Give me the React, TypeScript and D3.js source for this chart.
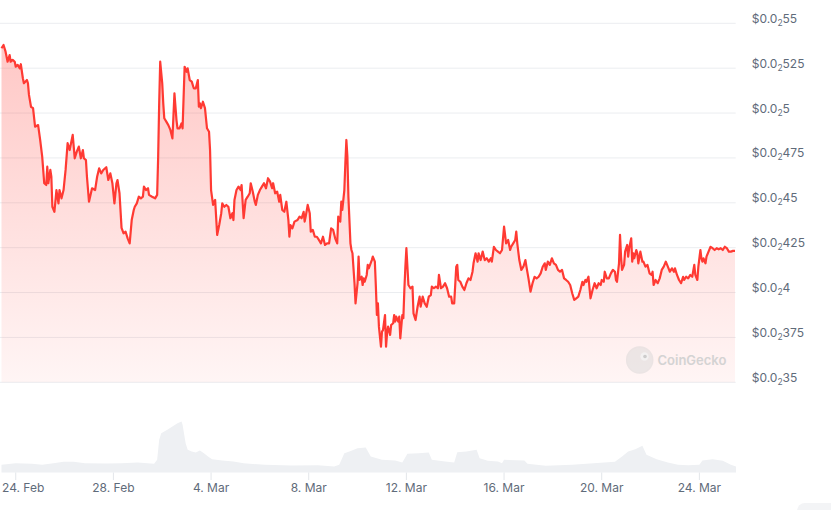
import * as d3 from "d3";

// hours since 24 Feb 2025 00:00 UTC, and the price at that hour (USD)
const priceHours = [
  -14, -12, -10, -8, -6, -5, -3, -1, 0, 2, 4, 5, 7, 8, 11, 12, 13, 15, 17, 19,
  22, 24, 26, 28, 30, 31, 32, 34, 35, 36, 38, 40, 42, 43, 45, 47, 49, 51, 53, 56,
  58, 60, 62, 64, 66, 67, 69, 70, 72, 75, 78, 80, 82, 84, 86, 89, 91, 93, 95, 97,
  99, 100, 102, 104, 106, 108, 110, 112, 114, 116, 117, 119, 121, 123, 125, 126, 128, 130, 131, 134,
  137, 139, 140, 141, 142, 144, 145, 146, 148, 150, 152, 154, 155, 156, 158, 159, 161, 163, 164, 166,
  168, 169, 171, 173, 175, 177, 179, 180, 181, 182, 184, 186, 188, 190, 191, 192, 194, 196, 198, 200,
  202, 203, 205, 207, 209, 211, 213, 214, 215, 217, 219, 221, 222, 224, 226, 228, 230, 231, 233, 235,
  236, 238, 240, 242, 244, 246, 248, 250, 252, 253, 255, 257, 259, 260, 262, 264, 266, 268, 269, 270,
  272, 274, 277, 279, 281, 283, 284, 285, 287, 289, 290, 292, 294, 296, 298, 300, 302, 304, 306, 308,
  310, 312, 314, 316, 317, 319, 320, 321, 323, 324, 325, 326, 327, 329, 330, 331, 333, 334, 336, 337,
  338, 340, 341, 342, 343, 345, 346, 347, 350, 351, 353, 354, 355, 356, 357, 359, 360, 361, 363, 364,
  365, 366, 368, 369, 371, 372, 373, 374, 376, 377, 378, 380, 381, 382, 383, 384, 386, 388, 390, 391,
  393, 395, 397, 398, 400, 402, 404, 406, 408, 409, 411, 413, 415, 416, 418, 420, 422, 424, 426, 428,
  429, 431, 433, 434, 435, 437, 439, 441, 443, 445, 447, 449, 450, 452, 454, 455, 457, 459, 461, 463,
  465, 467, 468, 470, 472, 474, 476, 478, 480, 481, 482, 484, 486, 487, 489, 491, 492, 493, 495, 497,
  499, 501, 502, 504, 506, 508, 510, 512, 514, 516, 518, 520, 521, 523, 525, 527, 529, 531, 533, 535,
  537, 539, 541, 543, 545, 547, 549, 551, 553, 555, 557, 558, 560, 561, 563, 564, 565, 567, 569, 571,
  573, 575, 576, 578, 579, 581, 583, 585, 587, 589, 590, 591, 593, 594, 595, 596, 598, 599, 601, 602,
  603, 605, 606, 607, 608, 610, 611, 612, 614, 616, 617, 619, 621, 623, 625, 626, 627, 629, 631, 633,
  635, 637, 639, 641, 643, 645, 647, 648, 650, 652, 654, 656, 657, 659, 661, 663, 665, 667, 668, 670,
  671, 673, 674, 675, 676, 678, 679, 681, 683, 685, 687, 689, 691, 693, 695, 697, 699, 701, 703, 705,
  707,
];

const prices = [
  0.0005361, 0.0005379, 0.0005342, 0.0005286, 0.0005323, 0.0005286, 0.0005296, 0.0005286, 0.0005258, 0.0005268,
  0.0005249, 0.0005272, 0.0005194, 0.0005166, 0.0005184, 0.0005166, 0.0005101, 0.0005035, 0.0005027, 0.0004924,
  0.0004933, 0.000485, 0.0004757, 0.0004609, 0.0004599, 0.0004701, 0.0004609, 0.0004683, 0.0004645, 0.0004478,
  0.000445, 0.0004571, 0.0004497, 0.0004571, 0.0004525, 0.0004571, 0.0004683, 0.0004832, 0.0004794, 0.0004878,
  0.0004748, 0.0004785, 0.0004813, 0.0004748, 0.0004794, 0.0004748, 0.0004738, 0.0004645, 0.0004506, 0.0004581,
  0.0004571, 0.0004645, 0.0004692, 0.0004664, 0.0004683, 0.0004698, 0.0004627, 0.0004664, 0.0004609, 0.0004497,
  0.0004609, 0.0004627, 0.0004553, 0.000436, 0.000433, 0.0004339, 0.0004302, 0.0004274, 0.0004404, 0.000446,
  0.0004478, 0.0004497, 0.0004534, 0.0004525, 0.0004534, 0.000459, 0.0004571, 0.0004581, 0.0004544, 0.0004534,
  0.0004525, 0.0004544, 0.0004757, 0.0005054, 0.0005286, 0.0005166, 0.0005054, 0.0004971, 0.0004952, 0.0004933,
  0.0004906, 0.0004859, 0.000498, 0.000511, 0.0004961, 0.0004915, 0.0004915, 0.0004943, 0.0004915, 0.0005258,
  0.000523, 0.0005249, 0.0005184, 0.0005175, 0.0005138, 0.0005138, 0.0005184, 0.0005035, 0.0005054, 0.0005027,
  0.0005063, 0.0005027, 0.0004915, 0.0004896, 0.0004794, 0.0004571, 0.0004488, 0.0004516, 0.0004321, 0.0004376,
  0.0004442, 0.0004497, 0.0004478, 0.0004488, 0.0004478, 0.0004414, 0.0004442, 0.0004404, 0.0004516, 0.0004571,
  0.000459, 0.0004571, 0.0004599, 0.0004414, 0.0004516, 0.0004534, 0.0004553, 0.0004609, 0.0004562, 0.0004506,
  0.0004488, 0.0004544, 0.0004571, 0.000459, 0.0004609, 0.0004581, 0.0004637, 0.0004618, 0.0004581, 0.0004609,
  0.0004553, 0.0004562, 0.0004506, 0.0004544, 0.000446, 0.000445, 0.0004506, 0.0004404, 0.0004311, 0.0004376,
  0.0004358, 0.0004395, 0.0004404, 0.0004423, 0.0004414, 0.000445, 0.0004395, 0.0004423, 0.0004488, 0.0004442,
  0.0004339, 0.0004349, 0.0004311, 0.0004311, 0.0004293, 0.0004274, 0.0004311, 0.0004265, 0.0004274, 0.0004274,
  0.0004358, 0.0004349, 0.0004302, 0.0004274, 0.0004423, 0.0004395, 0.0004506, 0.000446, 0.0004571, 0.000472,
  0.000485, 0.0004757, 0.0004534, 0.0004274, 0.0004237, 0.0004219, 0.0004052, 0.000394, 0.0004052, 0.00042,
  0.000407, 0.0004088, 0.0004042, 0.0004079, 0.000406, 0.0004098, 0.0004154, 0.0004135, 0.0004181, 0.00042,
  0.0004172, 0.0004033, 0.0003875, 0.000394, 0.000381, 0.0003698, 0.0003782, 0.0003791, 0.0003875, 0.0003698,
  0.0003773, 0.000381, 0.0003764, 0.0003819, 0.0003829, 0.0003875, 0.0003838, 0.0003866, 0.0003838, 0.0003866,
  0.0003745, 0.0003875, 0.0003857, 0.0004014, 0.0004144, 0.0004247, 0.0004042, 0.0004024, 0.0004033, 0.0003884,
  0.0003847, 0.0003921, 0.0003977, 0.0003921, 0.0003977, 0.000394, 0.0003921, 0.0003977, 0.0003986, 0.0004033,
  0.0004024, 0.0004033, 0.0004024, 0.0004098, 0.0004024, 0.0004033, 0.0004052, 0.0004024, 0.0003977, 0.0003977,
  0.000394, 0.000394, 0.0004144, 0.0004154, 0.000407, 0.000406, 0.0004033, 0.0004014, 0.0004052, 0.0004079,
  0.000407, 0.0004116, 0.0004163, 0.0004219, 0.0004172, 0.0004219, 0.0004181, 0.0004228, 0.0004181, 0.0004191,
  0.0004172, 0.0004191, 0.0004172, 0.0004255, 0.0004237, 0.0004228, 0.0004219, 0.0004237, 0.0004367, 0.0004321,
  0.0004274, 0.0004293, 0.0004237, 0.0004255, 0.0004274, 0.0004293, 0.0004339, 0.0004274, 0.0004181, 0.0004126,
  0.0004144, 0.0004181, 0.0004144, 0.0004079, 0.0004005, 0.0004052, 0.0004088, 0.0004079, 0.0004088, 0.0004107,
  0.0004144, 0.0004163, 0.0004126, 0.0004172, 0.0004154, 0.0004191, 0.0004163, 0.0004154, 0.0004126, 0.0004116,
  0.0004126, 0.0004079, 0.000407, 0.000406, 0.0004042, 0.0003996, 0.0003959, 0.0003968, 0.0003977, 0.0004014,
  0.000406, 0.0004042, 0.000407, 0.000406, 0.0004088, 0.0004024, 0.0003968, 0.0004014, 0.0004052, 0.0004024,
  0.0004052, 0.0004042, 0.000407, 0.000406, 0.0004116, 0.0004079, 0.0004079, 0.0004107, 0.0004126, 0.0004116,
  0.000407, 0.000406, 0.0004163, 0.0004321, 0.00042, 0.0004126, 0.0004154, 0.0004228, 0.0004265, 0.00042,
  0.0004247, 0.0004302, 0.0004172, 0.0004219, 0.0004191, 0.0004237, 0.0004219, 0.0004163, 0.0004228, 0.0004172,
  0.0004172, 0.0004144, 0.0004154, 0.0004107, 0.0004098, 0.0004116, 0.0004042, 0.000407, 0.0004052, 0.0004079,
  0.0004126, 0.0004144, 0.0004172, 0.0004144, 0.0004116, 0.0004135, 0.0004116, 0.0004135, 0.0004098, 0.000407,
  0.0004052, 0.0004088, 0.000407, 0.0004088, 0.0004079, 0.0004098, 0.0004088, 0.0004154, 0.0004098, 0.000407,
  0.0004144, 0.0004237, 0.0004191, 0.0004172, 0.0004191, 0.0004163, 0.00042, 0.0004228, 0.0004255, 0.0004247,
  0.0004237, 0.0004247, 0.0004241, 0.0004247, 0.0004237, 0.0004255, 0.0004247, 0.0004228, 0.0004228, 0.0004232,
  0.0004232,
];

// trading volume (relative units), same hour convention
const volumeHours = [
  -14, 0, 16, 26, 37, 47, 57, 68, 89, 104, 120, 136, 139, 141, 143, 149, 154, 159, 163, 164,
  167, 169, 173, 177, 181, 185, 189, 193, 203, 214, 224, 245, 271, 297, 313, 318, 323, 328, 336, 344,
  349, 360, 373, 380, 385, 396, 406, 409, 422, 431, 434, 443, 453, 456, 464, 474, 478, 480, 500, 503,
  521, 547, 568, 589, 596, 602, 609, 616, 620, 630, 641, 651, 661, 672, 675, 685, 695, 703, 708,
];
const volumes = [
  77, 93, 87, 77, 93, 107, 107, 93, 90, 93, 100, 87, 127, 327, 393, 427, 460, 493, 510, 477,
  293, 227, 210, 200, 220, 193, 160, 133, 120, 110, 93, 77, 70, 73, 60, 77, 193, 210, 243, 250,
  160, 127, 120, 100, 187, 193, 200, 127, 110, 100, 203, 210, 227, 143, 117, 110, 93, 127, 120, 87,
  67, 77, 93, 107, 160, 210, 233, 267, 177, 133, 100, 77, 73, 77, 120, 133, 117, 77, 60,
];

const priceTicks = [0.00035, 0.000375, 0.0004, 0.000425, 0.00045, 0.000475, 0.0005, 0.000525, 0.00055];
const dateTicks = [
  "2025-02-24", "2025-02-28", "2025-03-04", "2025-03-08",
  "2025-03-12", "2025-03-16", "2025-03-20", "2025-03-24",
];

const W = 831;
const H = 510;
const RED = "#ff3a33";
const LABEL = "#5f6b7a";
const FONT = "Inter, 'Noto Sans', sans-serif";

const start = Date.UTC(2025, 1, 24);
const toDate = (h: number) => new Date(start + h * 3600 * 1000);

// "$0.0₂525" style: leading zeros after "0.0" are shown as a subscript count
const splitPrice = (v: number) => {
  const dec = v.toFixed(8).replace(/0+$/, "").split(".")[1];
  const zeros = dec.match(/^0*/)![0].length;
  return { sub: String(zeros - 1), tail: dec.slice(zeros) };
};

const App = () => {
  const x = d3.scaleUtc().domain([toDate(-14), toDate(708)]).range([1.5, 736]);
  const y = d3.scaleLinear().domain([0.00035, 0.00055]).range([382.3, 23.3]);
  const yVol = d3.scaleLinear().domain([0, 600]).range([472.5, 412.5]);

  const pts = priceHours.map((h, i) => ({ t: toDate(h), v: prices[i] }));
  const vol = volumeHours.map((h, i) => ({ t: toDate(h), v: volumes[i] }));

  const line = d3.line<{ t: Date; v: number }>().x((d) => x(d.t)).y((d) => y(d.v));
  const area = d3
    .area<{ t: Date; v: number }>()
    .x((d) => x(d.t))
    .y0(y(0.00035))
    .y1((d) => y(d.v));
  const volArea = d3
    .area<{ t: Date; v: number }>()
    .x((d) => x(d.t))
    .y0(yVol(0))
    .y1((d) => yVol(d.v));

  const fmtDate = d3.utcFormat("%-d. %b");

  return (
    <svg
      width={W}
      height={H}
      style={{ position: "absolute", left: 0, top: 0, background: "#fff" }}
      fontFamily={FONT}
    >
      <defs>
        <linearGradient id="redFade" x1="0" y1="0" x2="0" y2="1">
          <stop offset="0" stopColor={RED} stopOpacity={0.28} />
          <stop offset="1" stopColor={RED} stopOpacity={0.05} />
        </linearGradient>
      </defs>

      {priceTicks.map((t) => (
        <line key={t} x1={0} x2={735.7} y1={y(t)} y2={y(t)} stroke="#ebedf0" strokeWidth={1} />
      ))}

      <path d={area(pts)!} fill="url(#redFade)" />

      {/* watermark */}
      <g opacity={0.9}>
        <circle cx={639.7} cy={360} r={13} fill="#d8d8d8" opacity={0.5} stroke="#d4d4d4" strokeWidth={1.5} />
        <circle cx={644.5} cy={356.5} r={4.2} fill="#f4f4f4" opacity={0.8} />
        <circle cx={645} cy={356.5} r={1.8} fill="#c8c8c8" />
        <text x={657.5} y={364.5} fontSize={13} fontWeight={600} fill="#d0d0d0">
          CoinGecko
        </text>
      </g>

      <path d={line(pts)!} fill="none" stroke={RED} strokeWidth={2.2} strokeLinejoin="round" />

      <path d={volArea(vol)!} fill="#eef0f3" />

      {priceTicks.map((t) => {
        const p = splitPrice(t);
        return (
          <text key={t} x={751.7} y={y(t) - 0.5} fontSize={12} fill={LABEL}>
            $0.0
            <tspan fontSize={8.5} dy={3}>
              {p.sub}
            </tspan>
            <tspan dy={-3}>{p.tail}</tspan>
          </text>
        );
      })}

      {dateTicks.map((s, i) => {
        const d = new Date(s + "T00:00:00Z");
        const tx = x(d);
        return (
          <g key={s}>
            <line x1={tx} x2={tx} y1={472.5} y2={480} stroke="#e3e6ea" strokeWidth={1} />
            <text
              x={i === 0 ? 2 : tx}
              y={491.5}
              fontSize={12}
              fill={LABEL}
              textAnchor={i === 0 ? "start" : "middle"}
            >
              {fmtDate(d)}
            </text>
          </g>
        );
      })}

      <rect x={797} y={503} width={60} height={30} rx={8} fill="#f3f4f6" />
    </svg>
  );
};

export default App;
